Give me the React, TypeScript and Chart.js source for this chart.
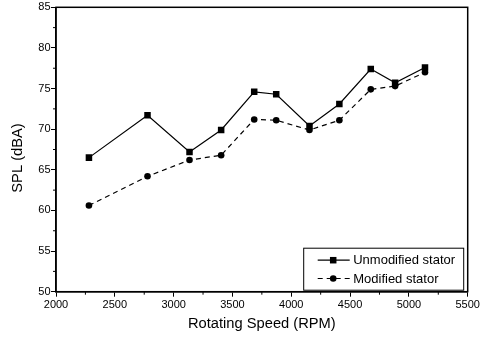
import { useEffect, useRef } from 'react';
import { Chart, registerables } from 'chart.js';

Chart.register(...registerables);

// Rotating speed (RPM) at each measurement
const rpm = [2280, 2778, 3135, 3404, 3685, 3872, 4155, 4409, 4676, 4883, 5137];
// Sound pressure level (dBA)
const unmodified = [66.5, 71.7, 67.2, 69.9, 74.6, 74.3, 70.4, 73.1, 77.4, 75.7, 77.6];
const modified = [60.6, 64.2, 66.2, 66.8, 71.2, 71.1, 69.9, 71.1, 74.9, 75.3, 77.0];

const seriesNames = ['Unmodified stator', 'Modified stator'];
const xTitle = 'Rotating Speed (RPM)';
const yTitle = 'SPL (dBA)';

const FONT = '"Liberation Sans", Arial, Helvetica, sans-serif';

const framePlugin = {
  id: 'frameAndLegend',
  afterDraw(chart: any) {
    const { ctx, chartArea: a, scales } = chart;
    const xs = scales.x;
    const ys = scales.y;
    ctx.save();

    // plot frame
    ctx.strokeStyle = '#000';
    ctx.lineWidth = 1.5;
    ctx.setLineDash([]);
    ctx.strokeRect(a.left, a.top, a.right - a.left, a.bottom - a.top);

    // minor ticks
    ctx.lineWidth = 1;
    ctx.beginPath();
    for (let v = 2250; v < 5500; v += 500) {
      const px = xs.getPixelForValue(v);
      ctx.moveTo(px, a.bottom);
      ctx.lineTo(px, a.bottom + 3);
    }
    for (let v = 52.5; v < 85; v += 5) {
      const py = ys.getPixelForValue(v);
      ctx.moveTo(a.left - 3, py);
      ctx.lineTo(a.left, py);
    }
    ctx.stroke();

    // y-axis title
    ctx.save();
    ctx.translate(17.5, (a.top + a.bottom) / 2 + 8.5);
    ctx.rotate(-Math.PI / 2);
    ctx.fillStyle = '#000';
    ctx.font = `14.7px ${FONT}`;
    ctx.textAlign = 'center';
    ctx.textBaseline = 'middle';
    ctx.fillText(yTitle, 0, 0);
    ctx.restore();

    // legend box
    const bx = a.right - 164;
    const by = a.bottom - 43.5;
    const bw = 160;
    const bh = 42;
    ctx.fillStyle = '#fff';
    ctx.fillRect(bx, by, bw, bh);
    ctx.strokeStyle = '#000';
    ctx.lineWidth = 1;
    ctx.strokeRect(bx, by, bw, bh);

    chart.data.datasets.forEach((ds: any, i: number) => {
      const ly = by + 12 + i * 18.3;
      ctx.strokeStyle = ds.borderColor;
      ctx.lineWidth = ds.borderWidth;
      ctx.setLineDash(ds.borderDash || []);
      ctx.beginPath();
      ctx.moveTo(bx + 14, ly);
      ctx.lineTo(bx + 46, ly);
      ctx.stroke();
      ctx.setLineDash([]);
      ctx.fillStyle = ds.pointBackgroundColor;
      const mx = bx + 29.5;
      if (ds.pointStyle === 'rect') {
        const s = ds.pointRadius * Math.SQRT2;
        ctx.fillRect(mx - s / 2, ly - s / 2, s, s);
      } else {
        ctx.beginPath();
        ctx.arc(mx, ly, ds.pointRadius, 0, Math.PI * 2);
        ctx.fill();
      }
      ctx.fillStyle = '#000';
      ctx.font = `13px ${FONT}`;
      ctx.textAlign = 'left';
      ctx.textBaseline = 'middle';
      ctx.fillText(ds.label, bx + 49.5, ly + 0.5);
    });

    ctx.restore();
  },
};

export default function App() {
  const canvasRef = useRef<HTMLCanvasElement>(null);

  useEffect(() => {
    const canvas = canvasRef.current;
    if (!canvas) return;
    const chart = new Chart(canvas, {
      type: 'line',
      data: {
        datasets: [
          {
            label: seriesNames[0],
            data: rpm.map((x, i) => ({ x, y: unmodified[i] })),
            borderColor: '#000',
            borderWidth: 1.2,
            pointStyle: 'rect',
            pointRadius: 4.6,
            pointBackgroundColor: '#000',
            pointBorderColor: '#000',
            pointBorderWidth: 0,
            tension: 0,
          },
          {
            label: seriesNames[1],
            data: rpm.map((x, i) => ({ x, y: modified[i] })),
            borderColor: '#000',
            borderWidth: 1.2,
            borderDash: [5, 4],
            pointStyle: 'circle',
            pointRadius: 3.3,
            pointBackgroundColor: '#000',
            pointBorderColor: '#000',
            pointBorderWidth: 0,
            tension: 0,
          },
        ],
      },
      options: {
        responsive: false,
        animation: false,
        events: [],
        layout: { padding: { top: 7.3, right: 17.3, left: 0, bottom: 0 } },
        plugins: {
          legend: { display: false },
          tooltip: { enabled: false },
        },
        scales: {
          x: {
            type: 'linear',
            min: 2000,
            max: 5500,
            afterFit: (s: any) => {
              s.height = 48.3;
            },
            ticks: {
              stepSize: 500,
              maxRotation: 0,
              padding: 2,
              color: '#000',
              font: { family: FONT, size: 11 },
              callback: (v: any) => String(v),
            },
            grid: { drawOnChartArea: false, drawTicks: true, tickLength: 5, color: '#000' },
            border: { display: true, color: '#000', width: 1.5 },
            title: {
              display: true,
              text: xTitle,
              color: '#000',
              font: { family: FONT, size: 14.7 },
              padding: { top: 0, bottom: 7 },
            },
          },
          y: {
            type: 'linear',
            min: 50,
            max: 85,
            afterFit: (s: any) => {
              s.width = 56;
            },
            ticks: {
              stepSize: 5,
              padding: 0.5,
              color: '#000',
              font: { family: FONT, size: 11 },
              callback: (v: any) => String(v),
            },
            grid: { drawOnChartArea: false, drawTicks: true, tickLength: 5, color: '#000' },
            border: { display: true, color: '#000', width: 1.5 },
          },
        },
      },
      plugins: [framePlugin],
    });
    return () => chart.destroy();
  }, []);

  return (
    <div style={{ position: 'absolute', left: 0, top: 0, width: 485, height: 340, background: '#fff' }}>
      <canvas ref={canvasRef} width={485} height={340} style={{ display: 'block' }} />
    </div>
  );
}
